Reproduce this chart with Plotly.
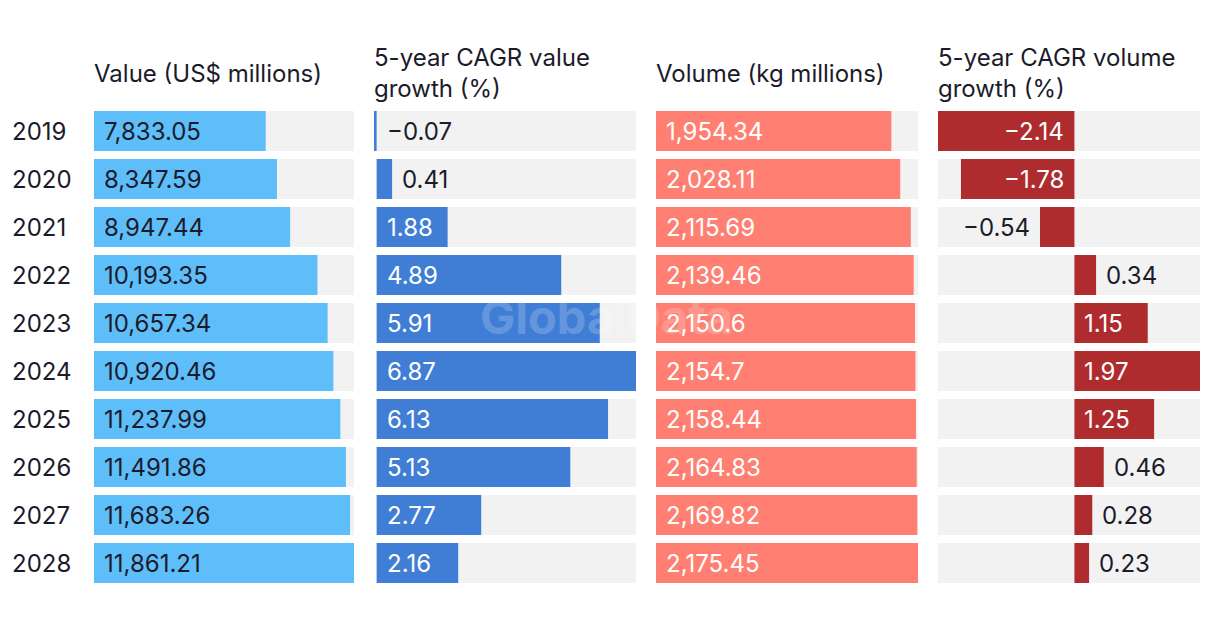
import plotly.graph_objects as go

years = ["2019", "2020", "2021", "2022", "2023", "2024", "2025", "2026", "2027", "2028"]
value_usd = [7833.05, 8347.59, 8947.44, 10193.35, 10657.34, 10920.46, 11237.99, 11491.86, 11683.26, 11861.21]
cagr_value = [-0.07, 0.41, 1.88, 4.89, 5.91, 6.87, 6.13, 5.13, 2.77, 2.16]
volume_kg = [1954.34, 2028.11, 2115.69, 2139.46, 2150.6, 2154.7, 2158.44, 2164.83, 2169.82, 2175.45]
cagr_volume = [-2.14, -1.78, -0.54, 0.34, 1.15, 1.97, 1.25, 0.46, 0.28, 0.23]

headers = ["Value (US$ millions)", "5-year CAGR value<br>growth (%)",
           "Volume (kg millions)", "5-year CAGR volume<br>growth (%)"]
W, H = 1220, 626
FONT = "Inter"
FS = 24
DARK = "#1b1b2b"
GRAY = "#f2f2f2"

panels = [
    dict(vals=value_usd, color="#5ebef9", px=(94, 354), bg_from_min=False, intext=DARK),
    dict(vals=cagr_value, color="#407ed6", px=(374, 636), bg_from_min=False, intext="white"),
    dict(vals=volume_kg, color="#ff7f72", px=(656, 918), bg_from_min=False, intext="white"),
    dict(vals=cagr_volume, color="#ae2b2e", px=(938, 1200), bg_from_min=True, intext="white"),
]

def fmt_val(v):
    s = f"{abs(v):,}"
    return ("\u2212" if v < 0 else "") + s

ypos = list(range(len(years)))
fig = go.Figure()
annotations = []
y_top, y_bot = 107, 587
ydom = [1 - y_bot / H, 1 - y_top / H]
layout_axes = {}
PAD = 8

for i, p in enumerate(panels):
    n = i + 1
    xa = "x" if n == 1 else f"x{n}"
    ya = "y" if n == 1 else f"y{n}"
    vals = p["vals"]
    vmin = min(0, min(vals))
    vmax = max(vals)
    bg_base = vmin if p["bg_from_min"] else 0
    fig.add_trace(go.Bar(y=ypos, x=[vmax - bg_base] * len(years), base=[bg_base] * len(years),
                         orientation="h", marker=dict(color=GRAY, line=dict(width=0)),
                         xaxis=xa, yaxis=ya, hoverinfo="skip", showlegend=False))
    fig.add_trace(go.Bar(y=ypos, x=vals, orientation="h",
                         marker=dict(color=p["color"], line=dict(width=0)),
                         xaxis=xa, yaxis=ya, showlegend=False))
    x0, x1 = p["px"]
    pxper = (x1 - x0) / (vmax - vmin)
    key = "xaxis" if n == 1 else f"xaxis{n}"
    ykey = "yaxis" if n == 1 else f"yaxis{n}"
    layout_axes[key] = dict(domain=[x0 / W, x1 / W], range=[vmin, vmax], visible=False,
                            fixedrange=True, anchor=ya)
    layout_axes[ykey] = dict(domain=ydom, range=[len(years) - 0.5, -0.5], visible=False,
                             anchor=xa, fixedrange=True)
    for y, v in zip(ypos, vals):
        txt = fmt_val(v)
        est_w = len(txt) * 12.5 + 20
        inside = abs(v) * pxper > est_w
        if inside:
            ax, anchor, shift, col = 0, ("left" if v >= 0 else "right"), (PAD if v >= 0 else -PAD), p["intext"]
        elif v >= 0:
            ax, anchor, shift, col = v, "left", PAD, DARK
        elif (v - vmin) * pxper > est_w:
            ax, anchor, shift, col = v, "right", -PAD, DARK
        else:
            ax, anchor, shift, col = 0, "left", PAD, DARK
        annotations.append(dict(x=ax, y=y, xref=xa, yref=ya, text=txt, showarrow=False,
                                xanchor=anchor, xshift=shift,
                                font=dict(family=FONT, size=FS, color=col)))
    annotations.append(dict(x=(x0 - 2) / W, y=1 - 73 / H, xref="paper", yref="paper", text=headers[i],
                            showarrow=False, xanchor="left", yanchor="middle", align="left",
                            font=dict(family=FONT, size=FS, color=DARK)))

for y, lab in zip(ypos, years):
    annotations.append(dict(x=10 / W, y=y, xref="paper", yref="y", text=lab, showarrow=False,
                            xanchor="left", font=dict(family=FONT, size=FS, color=DARK)))

annotations.append(dict(x=606 / W, y=1 - 316 / H, xref="paper", yref="paper", text="<b>GlobalData</b>",
                        showarrow=False, xanchor="center", yanchor="middle",
                        font=dict(family=FONT, size=47, color="rgba(255,255,255,0.2)")))

fig.update_layout(width=W, height=H, margin=dict(l=0, r=0, t=0, b=0),
                  paper_bgcolor="white", plot_bgcolor="rgba(0,0,0,0)",
                  barmode="overlay", bargap=1 / 6, annotations=annotations,
                  font=dict(family=FONT, color=DARK), **layout_axes)
fig.write_html("out.html")
